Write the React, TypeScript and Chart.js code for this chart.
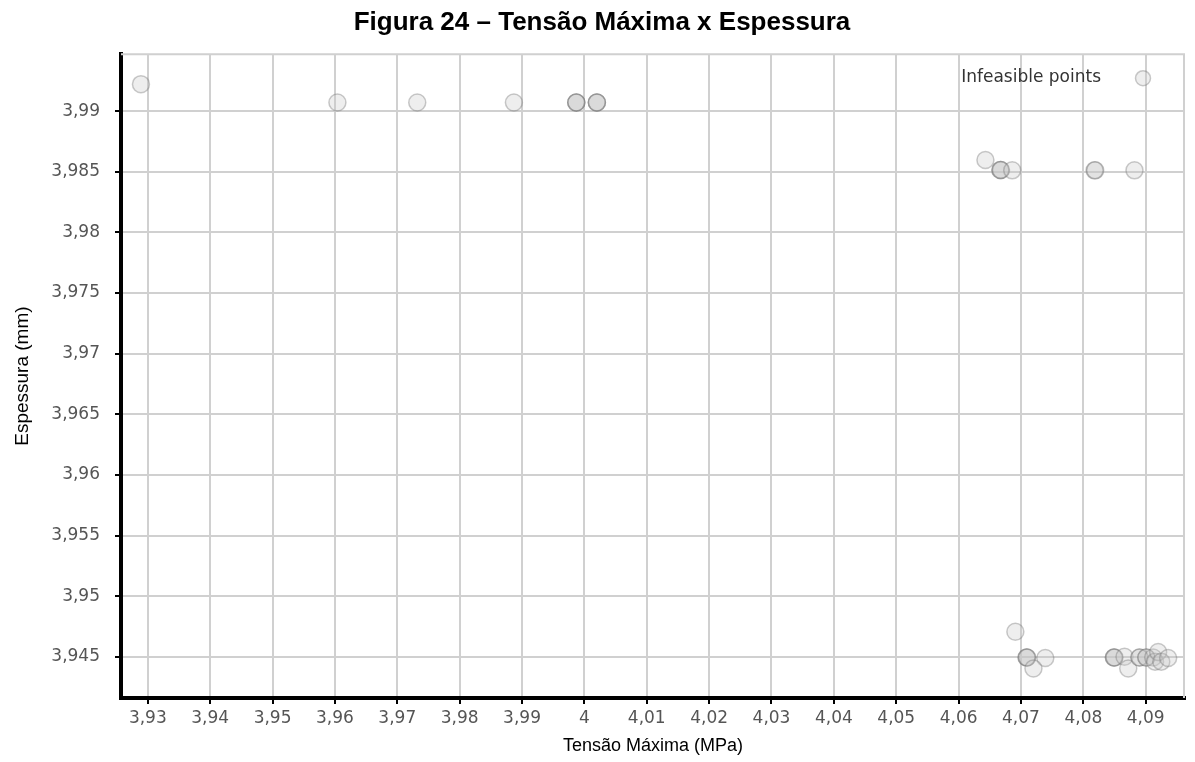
import React, { useEffect, useRef } from 'react';
import { Chart, registerables } from 'chart.js';

Chart.register(...registerables);

const chartTitle = 'Figura 24 – Tensão Máxima x Espessura';
const xAxisTitle = 'Tensão Máxima (MPa)';
const yAxisTitle = 'Espessura (mm)';
const seriesLabel = 'Infeasible points';

// Tensão Máxima (MPa) of each infeasible point
const tensaoMaxima = [
  3.9289, 3.9604, 3.9732, 3.9887, 3.9987, 3.9987, 3.9987, 4.002, 4.002, 4.002,
  4.0643, 4.0667, 4.0667, 4.0668, 4.0686, 4.0818, 4.0819, 4.0882,
  4.0691, 4.0709, 4.0709, 4.071, 4.0739, 4.072,
  4.0849, 4.0849, 4.085, 4.0866, 4.0872, 4.089, 4.089, 4.0901, 4.0901, 4.0912, 4.0915, 4.092, 4.0925, 4.0936,
];

// Espessura (mm) of each infeasible point
const espessura = [
  3.99223, 3.99072, 3.99072, 3.99072, 3.99072, 3.99072, 3.99072, 3.99072, 3.99072, 3.99072,
  3.98597, 3.98515, 3.98515, 3.98515, 3.98512, 3.98512, 3.98512, 3.98512,
  3.94706, 3.94494, 3.94494, 3.94494, 3.9449, 3.94403,
  3.94494, 3.94494, 3.94494, 3.945, 3.94403, 3.94494, 3.94494, 3.94494, 3.94494, 3.94494, 3.9446, 3.9454, 3.9446, 3.9449,
];

const xTickValues = [
  3.93, 3.94, 3.95, 3.96, 3.97, 3.98, 3.99, 4, 4.01, 4.02, 4.03, 4.04, 4.05, 4.06, 4.07, 4.08, 4.09,
];
const yTickValues = [3.945, 3.95, 3.955, 3.96, 3.965, 3.97, 3.975, 3.98, 3.985, 3.99];

const xLimits = [3.9257, 4.0963];
const yLimits = [3.9416, 3.9947];

const formatComma = (v: number) => String(v).replace('.', ',');

const pointFill = 'rgba(200,200,200,0.3)';
const pointStroke = 'rgba(115,115,115,0.38)';

const frameAndLegend = {
  id: 'frameAndLegend',
  beforeDatasetsDraw(chart: any) {
    const { ctx, chartArea: a } = chart;
    ctx.save();
    ctx.strokeStyle = '#d0d0d0';
    ctx.lineWidth = 2;
    ctx.beginPath();
    ctx.moveTo(a.left, a.top);
    ctx.lineTo(a.right - 1, a.top);
    ctx.lineTo(a.right - 1, a.bottom);
    ctx.stroke();
    ctx.restore();
  },
  afterDatasetsDraw(chart: any) {
    const { ctx, chartArea: a } = chart;
    const ds = chart.data.datasets[0];
    const mx = a.right - 42;
    const my = a.top + 24;
    ctx.save();
    ctx.beginPath();
    ctx.arc(mx, my, 7.5, 0, Math.PI * 2);
    ctx.fillStyle = ds.backgroundColor;
    ctx.fill();
    ctx.lineWidth = 1.5;
    ctx.strokeStyle = ds.borderColor;
    ctx.stroke();
    ctx.font = '17px "DejaVu Sans", sans-serif';
    ctx.fillStyle = '#333';
    ctx.textAlign = 'right';
    ctx.textBaseline = 'middle';
    ctx.fillText(ds.label, mx - 42, my - 1);
    ctx.restore();
  },
};

export default function App() {
  const canvasRef = useRef<HTMLCanvasElement | null>(null);

  useEffect(() => {
    const canvas = canvasRef.current;
    if (!canvas) return;
    const tickFont = { family: '"DejaVu Sans", sans-serif', size: 17 };
    const chart = new Chart(canvas, {
      type: 'scatter',
      data: {
        datasets: [
          {
            label: seriesLabel,
            data: tensaoMaxima.map((x, i) => ({ x, y: espessura[i] })),
            backgroundColor: pointFill,
            borderColor: pointStroke,
            borderWidth: 1.5,
            pointRadius: 8.5,
            pointHoverRadius: 8.5,
            clip: false as any,
          },
        ],
      },
      options: {
        animation: false,
        responsive: false,
        devicePixelRatio: 1,
        events: [],
        layout: { padding: { left: 10, right: 1, top: 0, bottom: 0 } },
        plugins: {
          legend: { display: false },
          tooltip: { enabled: false },
          title: {
            display: true,
            text: chartTitle,
            color: '#000',
            font: { family: '"Liberation Sans", Arial, sans-serif', size: 26, weight: 'bold' },
            padding: { top: 7, bottom: 16 },
          },
        },
        scales: {
          x: {
            type: 'linear',
            min: xLimits[0],
            max: xLimits[1],
            afterBuildTicks: (scale: any) => {
              scale.ticks = xTickValues.map((value) => ({ value }));
            },
            afterFit: (scale: any) => {
              scale.height = 64;
              scale.paddingLeft = 0;
              scale.paddingRight = 0;
            },
            ticks: {
              color: '#555',
              font: tickFont,
              padding: 4,
              maxRotation: 0,
              autoSkip: false,
              callback: (v: any) => formatComma(Number(v)),
            },
            grid: {
              color: '#d0d0d0',
              lineWidth: 2,
              drawTicks: true,
              tickLength: 6,
              tickColor: '#000',
              tickWidth: 2,
            },
            border: { display: true, color: '#000', width: 4 },
            title: {
              display: true,
              text: xAxisTitle,
              color: '#000',
              font: { family: '"Liberation Sans", Arial, sans-serif', size: 18 },
              padding: { top: 0, bottom: 5 },
            },
          },
          y: {
            type: 'linear',
            min: yLimits[0],
            max: yLimits[1],
            afterBuildTicks: (scale: any) => {
              scale.ticks = yTickValues.map((value) => ({ value }));
            },
            afterFit: (scale: any) => {
              scale.width = 111;
              scale.paddingTop = 0;
              scale.paddingBottom = 0;
            },
            ticks: {
              color: '#555',
              font: tickFont,
              padding: 15,
              autoSkip: false,
              callback: (v: any) => formatComma(Number(v)),
            },
            grid: {
              color: '#d0d0d0',
              lineWidth: 2,
              drawTicks: true,
              tickLength: 6,
              tickColor: '#000',
              tickWidth: 2,
            },
            border: { display: true, color: '#000', width: 4 },
            title: {
              display: true,
              text: yAxisTitle,
              color: '#000',
              font: { family: '"Liberation Sans", Arial, sans-serif', size: 19 },
              padding: { top: 1, bottom: 0 },
            },
          },
        },
      } as any,
      plugins: [frameAndLegend],
    });
    return () => chart.destroy();
  }, []);

  return (
    <div style={{ position: 'absolute', left: 0, top: 0, width: 1195, height: 762, background: '#fff' }}>
      <canvas ref={canvasRef} width={1195} height={762} style={{ display: 'block' }} />
    </div>
  );
}
